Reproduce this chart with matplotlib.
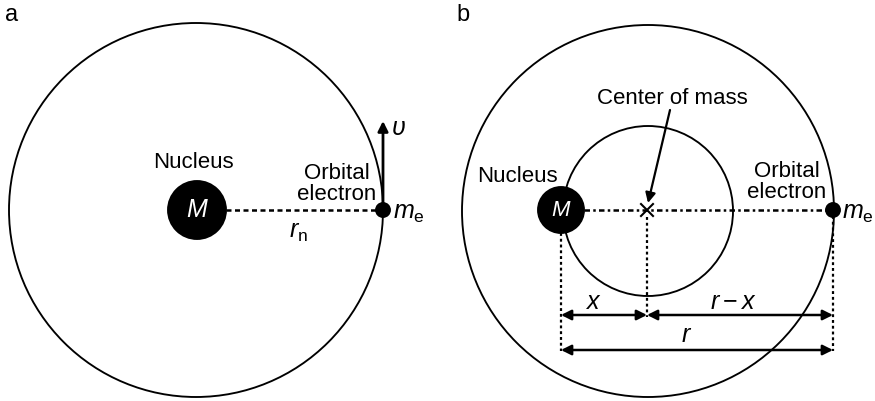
import matplotlib.pyplot as plt
from matplotlib.patches import Circle, FancyArrowPatch

plt.rcParams['font.family'] = 'Liberation Sans'
plt.rcParams['mathtext.fontset'] = 'custom'
plt.rcParams['mathtext.rm'] = 'Liberation Sans'
plt.rcParams['mathtext.it'] = 'Liberation Sans:italic'

# ===== DIAGRAM DATA (pixel units) =====
panel_labels = ['a', 'b']
orbit_a = (196, 210, 187)        # x, y, radius
nucleus_a = (197, 210, 29)
electron_a = (383, 210, 7)
orbit_b = (648, 211, 186)
inner_b = (648, 211, 85)
nucleus_b = (561, 210, 23)
electron_b = (833, 210, 7)
com_b = (647, 210)

FS = 16

fig = plt.figure(figsize=(8.75, 4.01), dpi=100)
ax = fig.add_axes([0, 0, 1, 1])
ax.set_xlim(0, 875)
ax.set_ylim(401, 0)
ax.axis('off')


def circ(c, fill=False, lw=1.35):
    x, y, r = c
    ax.add_patch(Circle((x, y), r, fill=fill, facecolor='black' if fill else 'none',
                        edgecolor='black', lw=lw, zorder=3 if fill else 1))


def arrow(p0, p1, style='-|>', lw=1.8):
    ax.add_patch(FancyArrowPatch(p0, p1, arrowstyle=style, mutation_scale=15,
                                 color='black', lw=lw, shrinkA=0, shrinkB=0, zorder=4))


# ===== PANEL A =====
ax.text(5, 15, panel_labels[0], fontsize=17, va='center', ha='left')
circ(orbit_a)
circ(nucleus_a, fill=True)
circ(electron_a, fill=True)
ax.plot([nucleus_a[0] + nucleus_a[2], electron_a[0]], [210, 210], color='black',
        lw=1.8, dashes=(2.0, 1.4))
arrow((electron_a[0], 210), (electron_a[0], 121), lw=2.0)
ax.text(nucleus_a[0], nucleus_a[1], '$M$', color='white', fontsize=18,
        ha='center', va='center', zorder=5)
ax.text(193, 163, 'Nucleus', fontsize=FS, ha='center', va='center')
ax.text(337, 184, 'Orbital\nelectron', fontsize=FS, ha='center', va='center',
        linespacing=1.05)
ax.text(393, 213, r'$m_\mathrm{e}$', fontsize=18, ha='left', va='center')
ax.text(298, 232, r'$r_\mathrm{n}$', fontsize=18, ha='center', va='center')
ax.text(391, 128, r'$\upsilon$', fontsize=18, ha='left', va='center')

# ===== PANEL B =====
ax.text(456, 15, panel_labels[1], fontsize=17, va='center', ha='left')
circ(orbit_b)
circ(inner_b)
circ(nucleus_b, fill=True)
circ(electron_b, fill=True)
ax.plot([nucleus_b[0] + nucleus_b[2], electron_b[0]], [210, 210], color='black',
        lw=1.8, dashes=(2.2, 1.3, 1.0, 1.3))
# centre of mass cross
d = 6
ax.plot([com_b[0] - d, com_b[0] + d], [com_b[1] - d, com_b[1] + d], color='black', lw=1.5, zorder=5)
ax.plot([com_b[0] - d, com_b[0] + d], [com_b[1] + d, com_b[1] - d], color='black', lw=1.5, zorder=5)
ax.text(nucleus_b[0], nucleus_b[1], '$M$', color='white', fontsize=16,
        ha='center', va='center', zorder=5)

for x0, y0, y1 in [(nucleus_b[0], nucleus_b[1] + nucleus_b[2], 351),
                   (com_b[0], com_b[1] + 7, 317),
                   (electron_b[0], electron_b[1] + 6, 351)]:
    ax.plot([x0, x0], [y0, y1], color='black', lw=1.6, dashes=(1.3, 1.3))

arrow((nucleus_b[0], 315), (com_b[0], 315), style='<|-|>')
arrow((com_b[0], 315), (electron_b[0], 315), style='<|-|>')
arrow((nucleus_b[0], 350), (electron_b[0], 350), style='<|-|>')
arrow((670, 110), (648, 203), lw=1.6)

ax.text(672, 99, 'Center of mass', fontsize=FS, ha='center', va='center')
ax.text(517, 176, 'Nucleus', fontsize=FS, ha='center', va='center')
ax.text(787, 182, 'Orbital\nelectron', fontsize=FS, ha='center', va='center',
        linespacing=1.05)
ax.text(842, 213, r'$m_\mathrm{e}$', fontsize=18, ha='left', va='center')
ax.text(593, 302, '$x$', fontsize=18, ha='center', va='center')
ax.text(733, 302, r'$r-x$', fontsize=18, ha='center', va='center')
ax.text(687, 335, '$r$', fontsize=18, ha='center', va='center')

fig.savefig('out.png', dpi=100)
